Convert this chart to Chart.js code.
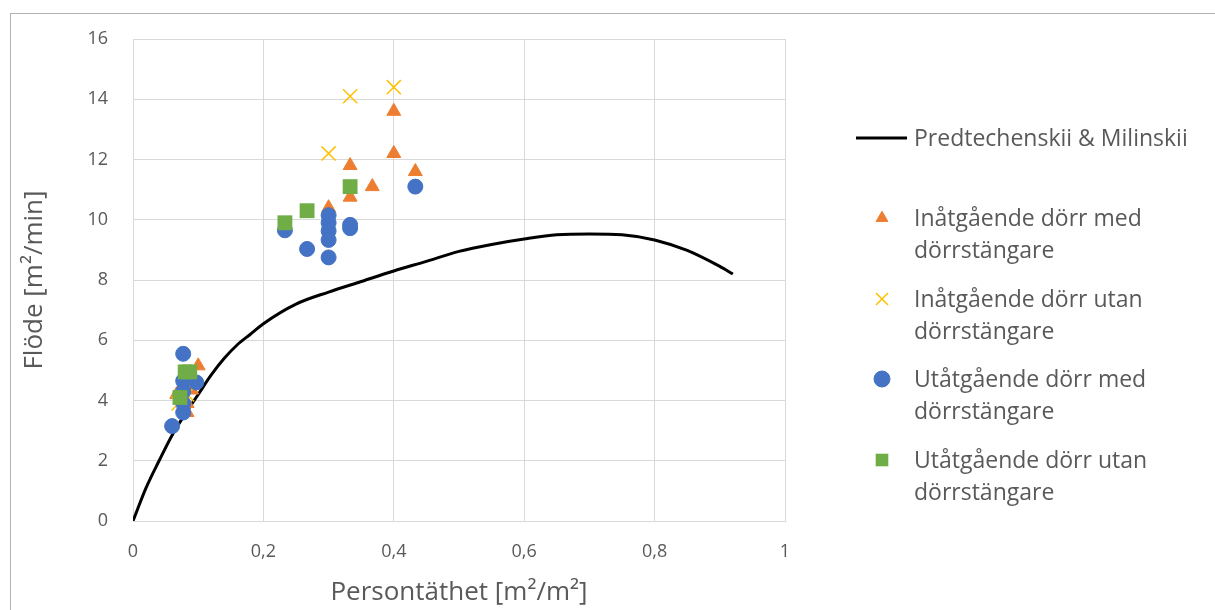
<!DOCTYPE html>
<html lang="sv">
<head>
    <meta charset="UTF-8">
    <title>Flöde mot persontäthet</title>
    <script src="https://cdn.jsdelivr.net/npm/chart.js"></script>
    <style>
        body {
            margin: 0;
            width: 1215px;
            height: 610px;
            overflow: hidden;
            background: #fff;
            font-family: "Open Sans", Lato, sans-serif;
        }
        #frame {
            position: absolute;
            left: 10px;
            top: 13px;
            width: 1300px;
            height: 700px;
            border: 1px solid #b3b3b3;
        }
        #wrap {
            position: absolute;
            left: 0;
            top: 0;
            width: 1215px;
            height: 610px;
        }
        #legend {
            position: absolute;
            left: 850px;
            top: 120px;
            color: #595959;
            font-size: 23px;
            line-height: 32px;
        }
        .item {
            position: absolute;
            left: 0;
            white-space: nowrap;
        }
        .item canvas {
            position: absolute;
            left: 0;
        }
        .item span {
            position: absolute;
            left: 64px;
            top: 1px;
        }
    </style>
</head>
<body>
    <div id="frame"></div>
    <div id="wrap"><canvas id="myChart" width="1215" height="610"></canvas></div>
    <div id="legend"></div>
    <script>
        // Predtechenskii & Milinskii curve
        var curveX = [0, 0.02, 0.04, 0.06, 0.08, 0.1, 0.12, 0.14, 0.16, 0.18, 0.2, 0.25, 0.3, 0.35, 0.4, 0.45, 0.5, 0.55, 0.6, 0.65, 0.7, 0.75, 0.8, 0.85, 0.9, 0.92];
        var curveY = [0, 1.1, 2.0, 2.85, 3.55, 4.2, 4.85, 5.4, 5.85, 6.2, 6.55, 7.2, 7.6, 7.95, 8.3, 8.62, 8.95, 9.18, 9.36, 9.5, 9.53, 9.5, 9.33, 8.98, 8.45, 8.2];

        // Inåtgående dörr med dörrstängare
        var inMedX = [0.4, 0.4, 0.333, 0.367, 0.333, 0.433, 0.3, 0.1, 0.09, 0.083, 0.083, 0.067];
        var inMedY = [13.6, 12.2, 11.8, 11.1, 10.75, 11.6, 10.4, 5.15, 4.35, 3.9, 3.6, 4.2];

        // Inåtgående dörr utan dörrstängare
        var inUtanX = [0.333, 0.4, 0.3, 0.07, 0.083];
        var inUtanY = [14.1, 14.4, 12.2, 3.9, 4.2];

        // Utåtgående dörr med dörrstängare
        var utMedX = [0.433, 0.233, 0.267, 0.3, 0.3, 0.3, 0.3, 0.3, 0.333, 0.333, 0.06, 0.077, 0.077, 0.097, 0.077, 0.077, 0.077];
        var utMedY = [11.1, 9.65, 9.03, 8.75, 10.15, 9.9, 9.63, 9.33, 9.83, 9.72, 3.15, 5.55, 4.65, 4.6, 3.6, 4.3, 3.9];

        // Utåtgående dörr utan dörrstängare
        var utUtanX = [0.333, 0.267, 0.233, 0.08, 0.087, 0.072];
        var utUtanY = [11.1, 10.3, 9.9, 4.95, 4.95, 4.1];

        var xTicks = [0, 0.2, 0.4, 0.6, 0.8, 1];
        var yTicks = [0, 2, 4, 6, 8, 10, 12, 14, 16];

        function pts(xs, ys) {
            return xs.map(function(x, i) { return { x: x, y: ys[i] }; });
        }
        function fmt(v) {
            return String(Number(v.toFixed(1))).replace('.', ',');
        }

        var grey = '#595959';
        var gridColor = '#d9d9d9';
        var font = 'Open Sans';

        var datasets = [
            {
                label: 'Predtechenskii & Milinskii',
                data: pts(curveX, curveY),
                showLine: true,
                borderColor: '#000',
                backgroundColor: '#000',
                borderWidth: 3,
                pointRadius: 0,
                cubicInterpolationMode: 'monotone',
                order: 5
            },
            {
                label: 'Inåtgående dörr med dörrstängare',
                data: pts(inMedX, inMedY),
                pointStyle: 'triangle',
                pointRadius: 8,
                backgroundColor: '#ED7D31',
                borderColor: '#ED7D31',
                borderWidth: 1,
                order: 4
            },
            {
                label: 'Inåtgående dörr utan dörrstängare',
                data: pts(inUtanX, inUtanY),
                pointStyle: 'crossRot',
                pointRadius: 10,
                backgroundColor: '#FFC000',
                borderColor: '#FFC000',
                borderWidth: 1.5,
                order: 3
            },
            {
                label: 'Utåtgående dörr med dörrstängare',
                data: pts(utMedX, utMedY),
                pointStyle: 'circle',
                pointRadius: 7.5,
                backgroundColor: '#4472C4',
                borderColor: '#4472C4',
                borderWidth: 1,
                order: 2
            },
            {
                label: 'Utåtgående dörr utan dörrstängare',
                data: pts(utUtanX, utUtanY),
                pointStyle: 'rect',
                pointRadius: 10.5,
                backgroundColor: '#70AD47',
                borderColor: '#70AD47',
                borderWidth: 0,
                order: 1
            }
        ];

        var ctx = document.getElementById('myChart').getContext('2d');
        var myChart = new Chart(ctx, {
            type: 'scatter',
            data: { datasets: datasets },
            options: {
                responsive: false,
                animation: false,
                layout: { padding: { left: 0, top: 39, right: 430, bottom: 0 } },
                plugins: {
                    legend: { display: false },
                    tooltip: { enabled: false }
                },
                scales: {
                    x: {
                        type: 'linear',
                        min: 0,
                        max: 1,
                        afterBuildTicks: function(scale) {
                            scale.ticks = xTicks.map(function(v) { return { value: v }; });
                        },
                        afterFit: function(scale) { scale.height = 89; },
                        grid: { color: gridColor, drawTicks: false },
                        border: { color: gridColor },
                        ticks: {
                            color: grey,
                            padding: 20,
                            font: { family: font, size: 18 },
                            callback: function(v) { return fmt(v); }
                        },
                        title: {
                            display: true,
                            text: 'Persontäthet [m²/m²]',
                            color: grey,
                            font: { family: font, size: 26 },
                            padding: { top: 0, bottom: 2 }
                        }
                    },
                    y: {
                        type: 'linear',
                        min: 0,
                        max: 16,
                        afterBuildTicks: function(scale) {
                            scale.ticks = yTicks.map(function(v) { return { value: v }; });
                        },
                        afterFit: function(scale) { scale.width = 133; },
                        grid: { color: gridColor, drawTicks: false },
                        border: { color: gridColor },
                        ticks: {
                            color: grey,
                            padding: 25,
                            font: { family: font, size: 18 },
                            callback: function(v) { return fmt(v); }
                        },
                        title: {
                            display: true,
                            text: 'Flöde [m²/min]',
                            color: grey,
                            font: { family: font, size: 26 },
                            padding: { top: 19, bottom: 0 }
                        }
                    }
                }
            }
        });

        // legend drawn beside the chart, with the same marker styles
        var legendTops = [0, 80, 161, 241, 322];
        var legendLines = [
            ['Predtechenskii & Milinskii'],
            ['Inåtgående dörr med', 'dörrstängare'],
            ['Inåtgående dörr utan', 'dörrstängare'],
            ['Utåtgående dörr med', 'dörrstängare'],
            ['Utåtgående dörr utan', 'dörrstängare']
        ];
        var legend = document.getElementById('legend');
        datasets.forEach(function(ds, i) {
            var item = document.createElement('div');
            item.className = 'item';
            item.style.top = legendTops[i] + 'px';
            var c = document.createElement('canvas');
            c.width = 60; c.height = 32;
            var g = c.getContext('2d');
            if (ds.pointRadius === 0) {
                g.strokeStyle = ds.borderColor;
                g.lineWidth = ds.borderWidth;
                g.beginPath(); g.moveTo(6, 18); g.lineTo(57, 18); g.stroke();
            } else {
                g.fillStyle = ds.backgroundColor;
                g.strokeStyle = ds.borderColor;
                g.lineWidth = ds.borderWidth;
                Chart.helpers.drawPoint(g, {
                    pointStyle: ds.pointStyle,
                    radius: ds.pointStyle === 'circle' ? 8 : ds.pointRadius * 0.85,
                    borderWidth: ds.borderWidth,
                    rotation: 0
                }, 32, 18);
            }
            item.appendChild(c);
            var s = document.createElement('span');
            s.innerHTML = legendLines[i].join('<br>');
            item.appendChild(s);
            legend.appendChild(item);
        });
    </script>
</body>
</html>
